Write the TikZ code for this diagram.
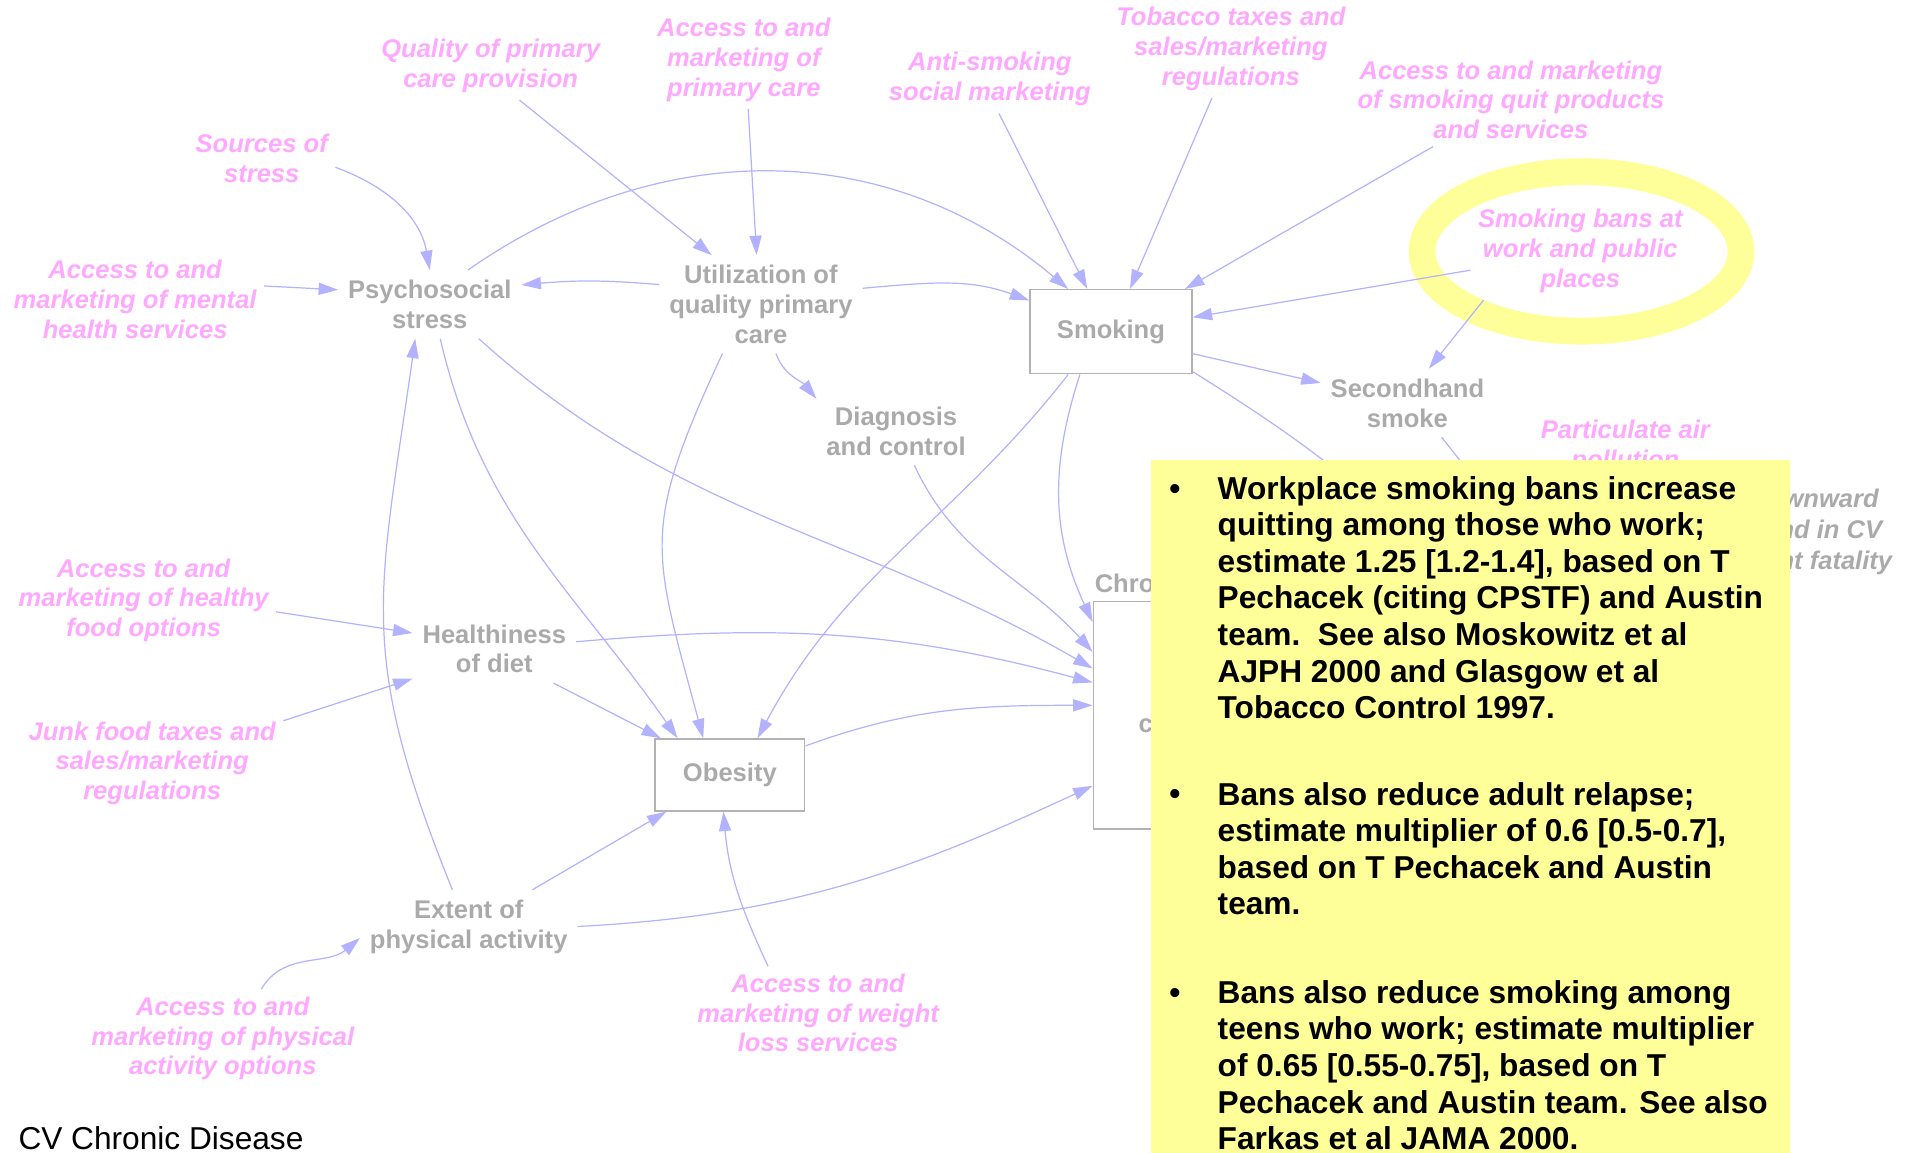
\documentclass[tikz,border=0pt]{standalone}
\usepackage{fontspec}
\setmainfont{Liberation Sans}
\usetikzlibrary{arrows.meta}

\definecolor{linkblue}{RGB}{178,178,255}
\definecolor{leverpink}{RGB}{255,168,255}
\definecolor{vargray}{RGB}{170,170,170}
\definecolor{boxgray}{RGB}{178,178,178}
\definecolor{notepad}{RGB}{255,255,153}

\tikzset{
  lever/.style={text=leverpink, font=\fontsize{21}{24.5}\selectfont\bfseries\itshape,
    align=center, inner sep=6pt},
  var/.style={text=vargray, font=\fontsize{21}{24.5}\selectfont\bfseries,
    align=center, inner sep=8pt},
  stock/.style={var, draw=boxgray, fill=white, line width=1.2pt, inner sep=0pt},
  link/.style={draw=linkblue, line width=1pt, -{Triangle[length=16pt,width=10pt]}},
  feed/.style={draw=linkblue, line width=1pt},
  notetext/.style={font=\fontsize{26}{30}\selectfont\bfseries, align=left,
    anchor=north west, inner sep=0pt},
  bullet/.style={font=\fontsize{26}{30}\selectfont\bfseries, anchor=base, inner sep=0pt},
}

\begin{document}
\begin{tikzpicture}[x=1pt,y=1pt]
\path[use as bounding box] (0,0) rectangle (1568,-947);

% highlight ring around the smoking-ban lever
\draw[notepad, line width=22pt] (1299,-206.5) ellipse [x radius=131, y radius=65.5];

% policy levers
\node[lever] (qual)    at (403,-54)   {Quality of primary\\care provision};
\node[lever] (accpc)   at (611,-49)   {Access to and\\marketing of\\primary care};
\node[lever] (anti)    at (813,-65)   {Anti-smoking\\social marketing};
\node[lever] (tob)     at (1011,-40)  {Tobacco taxes and\\sales/marketing\\regulations};
\node[lever] (quit)    at (1241,-82)  {Access to and marketing\\of smoking quit products\\and services};
\node[lever] (bans)    at (1298,-206) {Smoking bans at\\work and public\\places};
\node[lever] (srcs)    at (215,-130)  {Sources of\\stress};
\node[lever] (mental)  at (111,-246)  {Access to and\\marketing of mental\\health services};
\node[lever] (healthy) at (118,-493)  {Access to and\\marketing of healthy\\food options};
\node[lever] (junk)    at (125,-627)  {Junk food taxes and\\sales/marketing\\regulations};
\node[lever] (phys)    at (183,-853)  {Access to and\\marketing of physical\\activity options};
\node[lever] (weight)  at (672,-832)  {Access to and\\marketing of weight\\loss services};
\node[lever] (pm)      at (1335,-367) {Particulate air\\pollution};

% model variables
\node[var] (psy)    at (353,-250)  {Psychosocial\\stress};
\node[var] (util)   at (625,-250)  {Utilization of\\quality primary\\care};
\node[stock, minimum width=133, minimum height=69] (smok) at (912.5,-272.5) {Smoking};
\node[var] (second) at (1156,-331) {Secondhand\\smoke};
\node[var] (diag)   at (736,-354)  {Diagnosis\\and control};
\node[var] (diet)   at (406,-533)  {Healthiness\\of diet};
\node[stock, minimum width=123, minimum height=59] (obes) at (599.5,-636.5) {Obesity};
\node[var] (ext)    at (385,-761)  {Extent of\\physical activity};
\node[stock, minimum width=132, minimum height=187] (cvd) at (964,-587.5) {};
\node[var, anchor=base west, inner sep=0pt] (cvdtitle) at (899,-487) {Chronic};
\node[var, anchor=base west, inner sep=0pt] (cvdin) at (935,-602) {cases};
\node[var, font=\fontsize{21}{25.5}\selectfont\bfseries\itshape] (trend) at (1490,-437)
  {Downward\\trend in CV\\event fatality};

% links from levers
\draw[link] (srcs.-7) to[out=-20,in=100] (psy.north);
\draw[link] (mental.6) -- (psy.171);
\draw[link] (qual.-50) -- (util.135);
\draw[link] (accpc.-85) -- (util.95);
\draw[link] (anti.-75) -- (smok.119);
\draw[link] (tob.-111) -- (smok.66);
\draw[link] (quit.-149) -- (smok.30);
\draw[link] (bans.-170) -- (smok.10);
\draw[link] (bans.-153) -- (second.58);
\draw[link] (healthy.-5) -- (diet.169);
\draw[link] (junk.18) -- (diet.-160);
\draw[link] (phys.52) to[out=60,in=-140] (ext.-174);
\draw[link] (weight.137) to[out=115,in=-85] (obes.-100);

% links between variables
\draw[link] (psy.42) to[out=35,in=140] (smok.135);
\draw[link] (util.169) to[out=175,in=5] (psy.12);
\draw[link] (util.9) to[out=5,in=160] (smok.159);
\draw[link] (util.-73) to[out=-70,in=130] (diag.158);
\draw[link] (util.-128) to[out=-115,in=105,looseness=1.3] (obes.126);
\draw[link] (psy.-73) to[out=-77,in=125] (obes.145);
\draw[link] (psy.-35) to[out=-42,in=150] (cvd.150);
\draw[link] (ext.114) to[out=112,in=-98,looseness=1.2] (psy.-113);
\draw[link] (diet.5) to[out=5,in=165] (cvd.158);
\draw[link] (diet.-30) -- (obes.152);
\draw[link] (ext.30) -- (obes.-150);
\draw[link] (ext.0) to[out=3,in=-155] (cvd.221);
\draw[link] (obes.21) to[out=20,in=180] (cvd.173);
\draw[link] (smok.-135) to[out=-128,in=62] (obes.53);
\draw[link] (smok.-126) to[out=-108,in=115] (cvd.131);
\draw[link] (diag.-62) to[out=-65,in=132] (cvd.142);
\draw[link] (smok.-15) -- (second.167);
\coordinate (smokeout) at (1190,-470);
\draw[feed] (smok.-26) to[out=-32,in=135] (smokeout);
\coordinate (shsout) at (1240,-430);
\draw[feed] (second.-45) -- (shsout);

% evidence note
\node[fill=notepad, minimum width=525, minimum height=569, anchor=north west,
  inner sep=0pt] (note) at (945,-378) {};
\node[bullet] (b1) at (965,-410) {•};
\node[notetext] (p1) at (1000,-389) {\rule{0pt}{21pt}Workplace smoking bans increase\\
  quitting among those who work;\\
  estimate 1.25 [1.2-1.4], based on T\\
  Pechacek (citing CPSTF) and Austin\\
  team.\ \ See also Moskowitz et al\\
  AJPH 2000 and Glasgow et al\\
  Tobacco Control 1997.};
\node[bullet] (b2) at (965,-661) {•};
\node[notetext] (p2) at (1000,-640) {\rule{0pt}{21pt}Bans also reduce adult relapse;\\
  estimate multiplier of 0.6 [0.5-0.7],\\
  based on T Pechacek and Austin\\
  team.};
\node[bullet] (b3) at (965,-824) {•};
\node[notetext] (p3) at (1000,-803) {\rule{0pt}{21pt}Bans also reduce smoking among\\
  teens who work; estimate multiplier\\
  of 0.65 [0.55-0.75], based on T\\
  Pechacek and Austin team. See also\\
  Farkas et al JAMA 2000.};

% slide title
\node[anchor=base west, inner sep=0pt, font=\fontsize{26}{30}\selectfont] (title)
  at (15,-944.5) {CV Chronic Disease};
\end{tikzpicture}
\end{document}
